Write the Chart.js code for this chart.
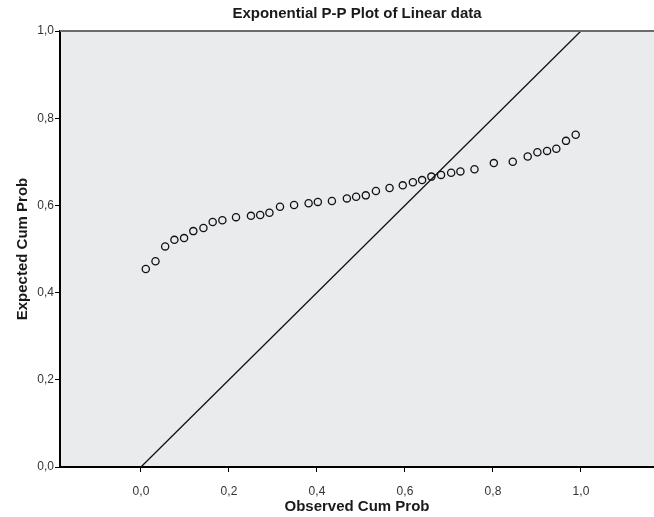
<!DOCTYPE html>
<html>
<head>
<meta charset="utf-8">
<script src="https://cdn.jsdelivr.net/npm/chart.js@4.4.0/dist/chart.umd.min.js"></script>
<style>
  html, body { margin: 0; padding: 0; background: #fff; }
  #wrap { width: 654px; height: 517px; }
</style>
</head>
<body>
<div id="wrap"><canvas id="ppChart" width="654" height="517"></canvas></div>
<script>
// Observed vs expected cumulative probabilities
const observedCum = [0.011, 0.033, 0.055, 0.076, 0.098, 0.119, 0.142, 0.163, 0.185, 0.216,
  0.250, 0.271, 0.292, 0.316, 0.348, 0.381, 0.402, 0.434, 0.468, 0.489,
  0.511, 0.534, 0.565, 0.595, 0.618, 0.639, 0.660, 0.682, 0.705, 0.726,
  0.758, 0.802, 0.845, 0.879, 0.901, 0.923, 0.944, 0.966, 0.988];
const expectedCum = [0.454, 0.472, 0.506, 0.521, 0.525, 0.541, 0.548, 0.562, 0.566, 0.573,
  0.576, 0.578, 0.583, 0.597, 0.601, 0.605, 0.608, 0.610, 0.616, 0.620,
  0.623, 0.633, 0.640, 0.646, 0.653, 0.658, 0.666, 0.670, 0.675, 0.678,
  0.683, 0.697, 0.700, 0.712, 0.722, 0.725, 0.730, 0.748, 0.762];
const refLine = [0, 1];
const tickValues = [0, 0.2, 0.4, 0.6, 0.8, 1.0];

const fmt = v => v.toFixed(1).replace('.', ',');

const points = observedCum.map((x, i) => ({ x: x, y: expectedCum[i] }));

// background, top border and titles
const frame = {
  id: 'frame',
  beforeDraw(chart) {
    const { ctx, chartArea: a } = chart;
    ctx.save();
    ctx.fillStyle = '#eaebed';
    ctx.fillRect(a.left, a.top, a.right - a.left, a.bottom - a.top);
    ctx.restore();
  },
  afterDraw(chart) {
    const { ctx, chartArea: a } = chart;
    ctx.save();
    ctx.strokeStyle = '#6b6b6b';
    ctx.lineWidth = 2;
    ctx.beginPath();
    ctx.moveTo(a.left, a.top);
    ctx.lineTo(a.right, a.top);
    ctx.stroke();

    ctx.fillStyle = '#1a1a1a';
    ctx.font = 'bold 15px "Liberation Sans", Arial, sans-serif';
    ctx.textAlign = 'center';
    ctx.textBaseline = 'middle';
    const cx = (a.left + a.right) / 2;
    ctx.fillText('Exponential P-P Plot of Linear data', cx, 14);
    ctx.fillText('Observed Cum Prob', cx, 507);
    ctx.translate(23, (a.top + a.bottom) / 2);
    ctx.rotate(-Math.PI / 2);
    ctx.fillText('Expected Cum Prob', 0, 0);
    ctx.restore();
  }
};

new Chart(document.getElementById('ppChart'), {
  type: 'scatter',
  data: {
    datasets: [{
      data: points,
      showLine: false,
      pointRadius: 3.6,
      pointBorderWidth: 1.3,
      pointBorderColor: '#111',
      pointBackgroundColor: 'rgba(0,0,0,0)'
    }, {
      data: refLine.map(v => ({ x: v, y: v })),
      showLine: true,
      borderColor: '#111',
      borderWidth: 1.3,
      pointRadius: 0
    }]
  },
  options: {
    responsive: false,
    animation: false,
    layout: { autoPadding: false, padding: { top: 31, left: 0, right: 0, bottom: 0 } },
    plugins: { legend: { display: false }, tooltip: { enabled: false }, title: { display: false } },
    scales: {
      x: {
        type: 'linear',
        min: -0.184,
        max: 1.166,
        afterFit(s) { s.height = 50; },
        afterBuildTicks(s) { s.ticks = tickValues.map(v => ({ value: v })); },
        border: { display: true, color: '#000', width: 2 },
        grid: { drawOnChartArea: false, drawTicks: true, tickLength: 5, color: '#000' },
        ticks: {
          color: '#333',
          padding: 12,
          maxRotation: 0,
          font: { family: '"Liberation Sans", Arial, sans-serif', size: 12 },
          callback: v => fmt(v)
        }
      },
      y: {
        type: 'linear',
        min: 0,
        max: 1,
        afterFit(s) { s.width = 60; },
        afterBuildTicks(s) { s.ticks = tickValues.map(v => ({ value: v })); },
        border: { display: true, color: '#000', width: 2 },
        grid: { drawOnChartArea: false, drawTicks: true, tickLength: 5, color: '#000' },
        ticks: {
          color: '#333',
          padding: 1,
          font: { family: '"Liberation Sans", Arial, sans-serif', size: 12 },
          callback: v => fmt(v)
        }
      }
    }
  },
  plugins: [frame]
});
</script>
</body>
</html>
